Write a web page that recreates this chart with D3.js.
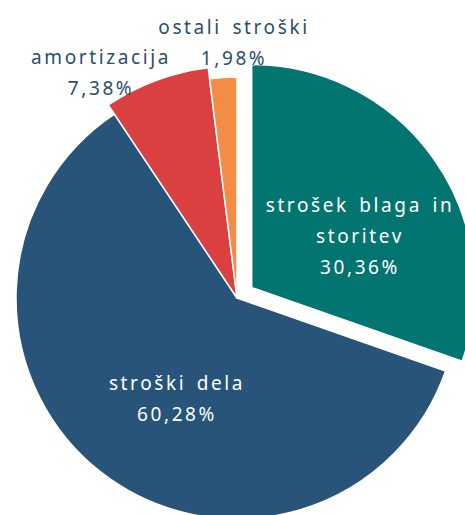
<!DOCTYPE html>
<html>
<head>
<meta charset="utf-8">
<style>
  body { margin: 0; background: #fff; }
  text { font-family: "Noto Sans", sans-serif; }
</style>
</head>
<body>
<script src="https://cdn.jsdelivr.net/npm/d3@7"></script>
<script>

  const categories = ['strošek blaga in storitev', 'stroški dela', 'amortizacija', 'ostali stroški']
  const values = [30.36, 60.28, 7.38, 1.98]
  const valueLabels = ['30,36%', '60,28%', '7,38%', '1,98%']
  const colors = ['#037571', '#285479', '#d9403f', '#f58c45']

  const width = 465,
        height = 515,
        cx = 237,
        cy = 298,
        radius = 221

  const svg = d3.select('body').append('svg')
      .attr('width', width)
      .attr('height', height)

  const g = svg.append('g')
      .attr('transform', `translate(${cx}, ${cy})`)

  const data = categories.map((c, i) => ({name: c, value: values[i], label: valueLabels[i], color: colors[i]}))

  const pie = d3.pie()
      .sort(null)
      .value(d => d.value)

  const arcs = pie(data)

  // teal slice pulled out, red slice a bit larger
  const explode = [18, 0, 0, 0]
  const outer = [radius + 2, radius, radius + 11, radius]

  g.selectAll('path.slice')
    .data(arcs)
    .enter()
    .append('path')
      .attr('class', 'slice')
      .attr('transform', (d, i) => {
        const a = (d.startAngle + d.endAngle) / 2
        return `translate(${Math.sin(a) * explode[i]}, ${-Math.cos(a) * explode[i]})`
      })
      .attr('d', (d, i) => d3.arc().innerRadius(0).outerRadius(outer[i])(d))
      .style('fill', d => d.data.color)
      .style('stroke', '#fff')
      .style('stroke-width', 1.5)
      .style('stroke-linejoin', 'round')

  // label positions and colours
  const labelPos = [
    {lines: ['strošek blaga in', 'storitev'], x: 360, y: 212, fill: '#ffffff'},
    {lines: ['stroški dela'], x: 177, y: 390, fill: '#ffffff'},
    {lines: ['amortizacija'], x: 101, y: 64, fill: '#2b4e6d'},
    {lines: ['ostali stroški'], x: 234, y: 34, fill: '#2b4e6d'}
  ]
  const lineH = 31

  const labels = svg.selectAll('text.label')
    .data(arcs)
    .enter()
    .append('text')
      .attr('class', 'label')
      .attr('text-anchor', 'middle')
      .style('font-size', '19px')
      .style('letter-spacing', '2.6px')
      .style('word-spacing', '3px')
      .style('fill', (d, i) => labelPos[i].fill)

  labels.each(function(d, i) {
    const t = d3.select(this)
    const p = labelPos[i]
    const lines = [...p.lines, d.data.label]
    lines.forEach((l, j) => {
      t.append('tspan')
        .attr('x', p.x)
        .attr('y', p.y + j * lineH)
        .text(l)
    })
  })

</script>
</body>
</html>
